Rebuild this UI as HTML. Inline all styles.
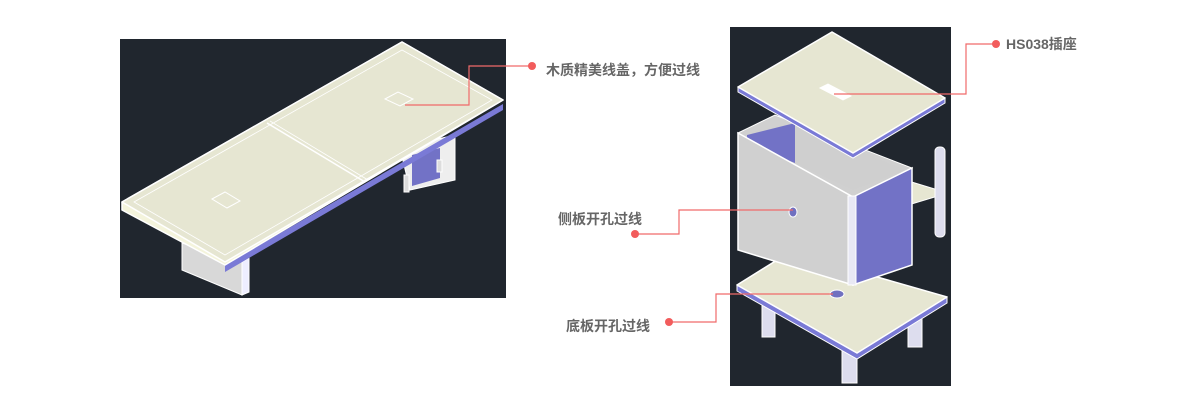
<!DOCTYPE html>
<html><head><meta charset="utf-8"><style>
html,body{margin:0;padding:0;background:#fff;}
svg{display:block}
text{font-family:"Liberation Sans","Noto Sans CJK SC",sans-serif;font-size:14px;font-weight:bold;fill:#666}
</style></head><body>
<svg width="1200" height="400" viewBox="0 0 1200 400" xmlns="http://www.w3.org/2000/svg">
<rect x="120" y="39" width="386" height="259" fill="#20262e"/>
<polygon points="182,243 242,262 242,295 182,270" fill="#d8d8d8" stroke="#fff" stroke-width="1"/>
<polygon points="242,262 249,258 249,292 242,295" fill="#eef" stroke="#fff"/>
<polygon points="400,148 455,135 455,180 410,190" fill="#eee" stroke="#fff"/>
<polygon points="412,155 440,148 440,178 412,186" fill="#7272c6"/>
<rect x="404" y="175" width="5" height="17" fill="#ddd" stroke="#fff"/>
<rect x="437" y="160" width="5" height="12" fill="#ddd" stroke="#fff"/>
<polygon points="225,265 503,104 503,110 225,272" fill="#7a7ad6"/>
<polygon points="122,202 402,42 503,100 225,265 122,210" fill="#f4f4dc" stroke="#fff" stroke-width="1.5" stroke-linejoin="round"/>
<polygon points="122,202 402,42 503,100 225,262" fill="#e6e6d2" stroke="#fff" stroke-width="1.5" stroke-linejoin="round"/>
<polygon points="134,202 402,50 492,100 225,255" fill="none" stroke="#fff" stroke-width="0.8"/>
<line x1="267" y1="123" x2="365" y2="182" stroke="#fff" stroke-width="1.5"/>
<line x1="270" y1="121" x2="368" y2="180" stroke="#fff" stroke-width="0.8"/>
<polygon points="212,199 225,192 240,201 227,208" fill="#e6e6d2" stroke="#fff"/>
<polygon points="385,99 398,92 413,99 400,106" fill="#e6e6d2" stroke="#fff"/>
<polyline points="405,105 469,105 469,66 532,66" fill="none" stroke="#f06a6a" stroke-width="1.2"/>
<circle cx="532" cy="66" r="4" fill="#f25c5c"/>
<text x="546" y="75">木质精美线盖，方便过线</text>

<rect x="730" y="27" width="221" height="359" fill="#20262e"/>
<rect x="762" y="305" width="13" height="32" fill="#dde" stroke="#fff"/>
<rect x="842" y="350" width="15" height="33" fill="#dde" stroke="#fff"/>
<rect x="908" y="315" width="14" height="32" fill="#dde" stroke="#fff"/>
<polygon points="737,291 857,359 947,303 947,297 857,353 737,285" fill="#7a7ad6" stroke="#fff"/>
<polygon points="737,285 790,252 947,297 857,353" fill="#e6e6d2" stroke="#fff" stroke-width="1.5" stroke-linejoin="round"/>
<ellipse cx="837" cy="294" rx="7" ry="4" fill="#7070c0" stroke="#fff"/>
<polygon points="905,180 938,190 938,196 905,206" fill="#e6e6d2" stroke="#fff"/>
<rect x="935" y="147" width="10" height="90" rx="4" fill="#dde" stroke="#fff"/>
<polygon points="738,133 775,115 912,168 853,197" fill="#d0d0d0" stroke="#fff"/>
<polygon points="747,135 795,123 795,163 747,145" fill="#7272c6"/>
<polygon points="795,123 905,170 853,190 795,163" fill="#cfcfcf"/>
<polygon points="738,133 853,197 853,285 738,250" fill="#d0d0d0" stroke="#fff" stroke-width="1.5"/>
<polygon points="853,197 912,168 912,265 853,285" fill="#7272c6" stroke="#fff" stroke-width="1.5"/>
<rect x="848" y="196" width="8" height="89" fill="#e8e8f4" stroke="#fff"/>
<ellipse cx="793" cy="212" rx="4" ry="5" fill="#7070c0" stroke="#fff"/>
<polygon points="738,87 853,153 945,98 945,103 853,158 738,92" fill="#7a7ad6" stroke="#fff"/>
<polygon points="738,87 832,32 945,98 853,153" fill="#e6e6d2" stroke="#fff" stroke-width="1.5" stroke-linejoin="round"/>
<polygon points="820,88 828,84 851,96 843,100" fill="#fff" stroke="#fff"/>
<polyline points="834,94 966,94 966,44 996,44" fill="none" stroke="#f06a6a" stroke-width="1.2"/>
<circle cx="996" cy="44" r="4" fill="#f25c5c"/>
<text x="1006" y="49">HS038插座</text>
<polyline points="793,210 679,210 679,234 635,234" fill="none" stroke="#f06a6a" stroke-width="1.2"/>
<circle cx="635" cy="234" r="4" fill="#f25c5c"/>
<text x="558" y="224">侧板开孔过线</text>
<polyline points="833,294 716,294 716,322 669,322" fill="none" stroke="#f06a6a" stroke-width="1.2"/>
<circle cx="669" cy="322" r="4" fill="#f25c5c"/>
<text x="566" y="331">底板开孔过线</text>
</svg>
</body></html>
